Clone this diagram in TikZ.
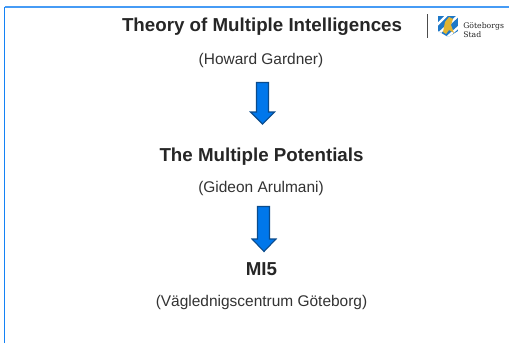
\documentclass[tikz,border=0pt]{standalone}
\usepackage{fontspec}
\setmainfont{Liberation Sans}
\newfontfamily\logofont{DejaVu Serif}
\definecolor{framecol}{RGB}{20,130,245}
\definecolor{topcol}{RGB}{70,155,245}
\definecolor{arrowfill}{RGB}{0,119,235}
\definecolor{arrowline}{RGB}{10,75,140}
\definecolor{shieldblue}{RGB}{30,120,200}
\definecolor{lion}{RGB}{225,180,50}
\tikzset{
  px/.style={x=0.75pt,y=-0.75pt},
  title/.style={font=\bfseries\fontsize{14.05pt}{15pt}\selectfont,text=black!85,anchor=base,inner sep=0pt},
  sub/.style={font=\fontsize{11.6pt}{13pt}\selectfont,text=black!80,anchor=base,inner sep=0pt},
  down/.style={fill=arrowfill,draw=arrowline,line width=0.8pt,line join=miter},
  logotext/.style={font=\logofont\fontsize{5.8pt}{6pt}\selectfont,text=black!85,anchor=base west,inner sep=0pt}
}
\begin{document}
\begin{tikzpicture}[px]
\useasboundingbox (0,0) rectangle (509,343);
\fill[white] (0,0) rectangle (509,343);
\draw[topcol,line width=0.9pt] (4.5,7) -- (509,7);
\draw[framecol,line width=0.8pt] (4.5,343) -- (4.5,6.6);
\node[title] (t1) at (262,31.5) {Theory of Multiple Intelligences};
\node[sub] (s1) at (261,64) {(Howard Gardner)};
\node[title] (t2) at (261.5,161) {The Multiple Potentials};
\node[sub] (s2) at (261,192) {(Gideon Arulmani)};
\node[title] (t3) at (261.5,275) {MI5};
\node[sub] (s3) at (261.5,306) {(Väglednigscentrum Göteborg)};
\draw[down] (256.5,82.5) -- (268.5,82.5) -- (268.5,112) -- (274.5,112) -- (262.5,124) -- (250.5,112) -- (256.5,112) -- cycle;
\draw[down] (257.5,206.5) -- (269.5,206.5) -- (269.5,239) -- (276,239) -- (264,251.5) -- (252,239) -- (257.5,239) -- cycle;
\draw[black!70,line width=0.7pt] (427,14) -- (427,38);
\begin{scope}
\clip (438,16) -- (458,16) -- (458,31) -- (448,37) -- (438,31) -- cycle;
\fill[shieldblue] (438,16) rectangle (458,37);
\draw[white,line width=1.8pt] (436,26) -- (448,14);
\draw[white,line width=1.8pt] (436,36) -- (460,14);
\draw[white,line width=1.8pt] (444,40) -- (462,24);
\end{scope}
\fill[lion] (443,32) -- (445,22) -- (449,17) -- (453,19) -- (451,25) -- (454,33) -- (449,30) -- (446,34) -- cycle;
\node[logotext] (l1) at (463,28) {Göteborgs};
\node[logotext] (l2) at (463,37) {Stad};
\end{tikzpicture}
\end{document}
